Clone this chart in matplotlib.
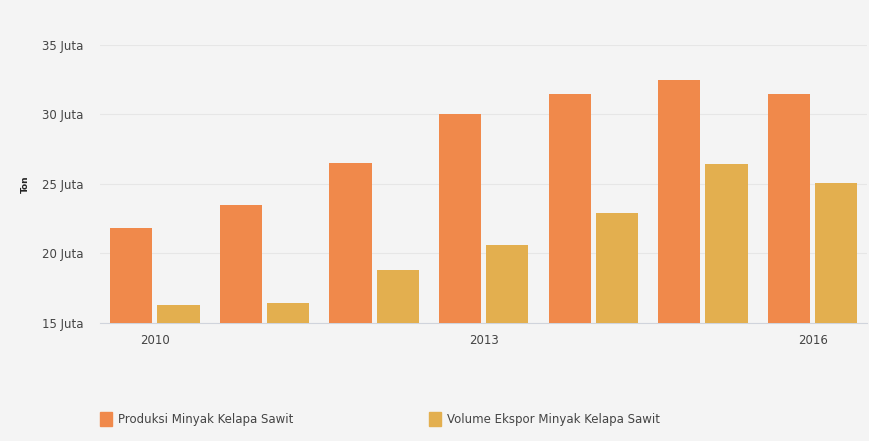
import numpy as np
import matplotlib.pyplot as plt
from matplotlib.patches import Patch

# Data (juta ton)
years = ['2010', '2011', '2012', '2013', '2014', '2015', '2016']
produksi = [21.8, 23.5, 26.5, 30.0, 31.5, 32.5, 31.5]
ekspor = [16.3, 16.4, 18.8, 20.6, 22.9, 26.4, 25.1]
y_ticks = [15, 20, 25, 30, 35]
x_labels_shown = ['2010', '2013', '2016']

c_prod = '#F0894B'
c_eksp = '#E3AF4F'
bg = '#F4F4F4'

fig = plt.figure(figsize=(8.7, 4.41), dpi=100)
fig.patch.set_facecolor(bg)
ax = fig.add_axes([0.115, 0.268, 0.882, 0.63])
ax.set_facecolor(bg)

x = np.arange(len(years))
w = 0.385
ax.bar(x - 0.215, produksi, width=w, color=c_prod, zorder=3)
ax.bar(x + 0.215, ekspor, width=w, color=c_eksp, zorder=3)

ax.set_xlim(-0.5, len(years) - 0.5)
ax.set_ylim(15, 35)
ax.set_yticks(y_ticks)
ax.set_yticklabels([f'{v} Juta' for v in y_ticks])
ax.set_xticks([years.index(y) for y in x_labels_shown])
ax.set_xticklabels(x_labels_shown)

ax.grid(axis='y', color='#E6E6E6', linewidth=0.8, zorder=0)
for s in ['top', 'right', 'left']:
    ax.spines[s].set_visible(False)
ax.spines['bottom'].set_color('#D0D4DC')
ax.spines['bottom'].set_linewidth(0.8)
ax.tick_params(axis='both', length=0, labelsize=8.5, colors='#444444')
ax.tick_params(axis='x', pad=8)
ax.tick_params(axis='y', pad=12)
ax.set_ylabel('Ton', fontsize=6.5, fontweight='bold', color='#222222', labelpad=9)

handles = [Patch(color=c_prod, label='Produksi Minyak Kelapa Sawit'),
           Patch(color=c_eksp, label='Volume Ekspor Minyak Kelapa Sawit')]
fig.legend(handles=handles, loc='center left', bbox_to_anchor=(0.103, 0.05),
           ncol=2, frameon=False, fontsize=8.5, handlelength=1.0, handleheight=1.4,
           handletextpad=0.5, columnspacing=11.5, labelcolor='#444444')

fig.savefig('out.png', dpi=100, facecolor=bg)
